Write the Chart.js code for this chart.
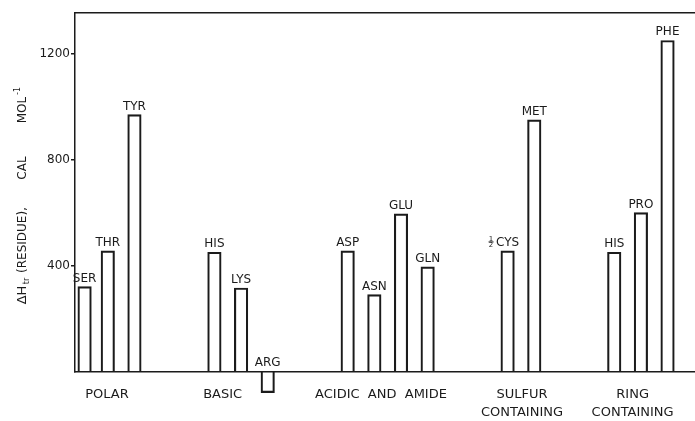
<!DOCTYPE html>
<html>
<head>
<meta charset="utf-8">
<script src="https://cdn.jsdelivr.net/npm/chart.js@4"></script>
<style>
  html, body { margin: 0; padding: 0; background: #fff; }
  #wrap { width: 695px; height: 421px; }
</style>
</head>
<body>
<div id="wrap"><canvas id="c" width="695" height="421"></canvas></div>
<script>
// Transfer enthalpy per residue, grouped by side-chain class
const residues  = ['SER', 'THR', 'TYR', 'HIS', 'LYS', 'ARG', 'ASP', 'ASN', 'GLU', 'GLN', '½CYS', 'MET', 'HIS', 'PRO', 'PHE'];
const slots     = [0.13, 1, 2, 5, 6, 7, 10, 11, 12, 13, 16, 17, 20, 21, 22];
const enthalpy  = [320, 455, 970, 450, 315, -80, 455, 290, 595, 395, 455, 950, 450, 600, 1250];

const groupNames   = [['POLAR'], ['BASIC'], ['ACIDIC  AND  AMIDE'], ['SULFUR', 'CONTAINING'], ['RING', 'CONTAINING']];
const groupCenters = [0.97, 5.31, 11.25, 16.54, 20.69];
const yTicks       = [400, 800, 1200];

const ink  = '#1b1b1b';
const FONT = '"DejaVu Sans", "Liberation Sans", sans-serif';

// residue names written above each bar (above the base line for negative bars)
const barNames = {
  id: 'barNames',
  afterDatasetsDraw(chart) {
    const ctx = chart.ctx;
    const meta = chart.getDatasetMeta(0);
    ctx.save();
    ctx.fillStyle = ink;
    ctx.textAlign = 'center';
    ctx.textBaseline = 'alphabetic';
    meta.data.forEach((bar, i) => {
      const top = Math.min(bar.y, bar.base) - 5;
      let name = residues[i];
      ctx.font = '12px ' + FONT;
      if (name.startsWith('½')) {
        name = name.slice(1);
        ctx.fillText(name, bar.x, top);
        const w = ctx.measureText(name).width;
        const fx = bar.x - w / 2 - 5;
        ctx.font = '7px ' + FONT;
        ctx.fillText('1', fx, top - 5);
        ctx.fillText('2', fx, top + 1);
        ctx.strokeStyle = ink;
        ctx.lineWidth = 1;
        ctx.beginPath();
        ctx.moveTo(fx - 2.5, top - 4);
        ctx.lineTo(fx + 2.5, top - 4);
        ctx.stroke();
      } else {
        ctx.fillText(name, bar.x, top);
      }
    });
    ctx.restore();
  }
};

// rotated y-axis title with subscript "tr" and superscript "-1"
const titleParts = [
  { t: 'ΔH',         at: 295, size: 13, shift: 0 },
  { t: 'tr',         at: 281, size: 8,  shift: 4 },
  { t: '(RESIDUE),', at: 240, size: 12, shift: 0 },
  { t: 'CAL',        at: 168, size: 12, shift: 0 },
  { t: 'MOL',        at: 110, size: 12, shift: 0 },
  { t: '-1',         at: 91,  size: 8,  shift: -5 }
];
const yTitle = {
  id: 'yTitle',
  afterDraw(chart) {
    const ctx = chart.ctx;
    ctx.save();
    ctx.fillStyle = ink;
    ctx.textAlign = 'center';
    ctx.textBaseline = 'middle';
    titleParts.forEach(p => {
      ctx.save();
      ctx.translate(22.5 + p.shift, p.at);
      ctx.rotate(-Math.PI / 2);
      ctx.font = p.size + 'px ' + FONT;
      ctx.fillText(p.t, 0, 0);
      ctx.restore();
    });
    ctx.restore();
  }
};

new Chart(document.getElementById('c'), {
  type: 'bar',
  data: {
    datasets: [{
      data: slots.map((s, i) => ({ x: s, y: enthalpy[i] })),
      backgroundColor: 'rgba(255,255,255,0)',
      borderColor: ink,
      borderWidth: 1.5,
      borderSkipped: 'start',
      barThickness: 13.5,
      clip: false
    }]
  },
  options: {
    responsive: false,
    animation: false,
    devicePixelRatio: 1,
    layout: { padding: 0 },
    plugins: { legend: { display: false }, tooltip: { enabled: false } },
    scales: {
      x: {
        type: 'linear',
        position: 'bottom',
        min: -0.23, max: 23.03,
        offset: false,
        afterFit(s) { s.height = 49.6; },
        afterBuildTicks(s) { s.ticks = groupCenters.map(v => ({ value: v })); },
        grid: { display: false, offset: false },
        border: { display: true, color: ink, width: 1.5 },
        ticks: {
          autoSkip: false, maxRotation: 0, minRotation: 0,
          padding: 6.5, color: ink,
          font: { family: FONT, size: 13, lineHeight: 1.385 },
          callback: (v, i) => groupNames[i]
        }
      },
      top: {
        type: 'linear',
        axis: 'x',
        position: 'top',
        min: -0.23, max: 23.03,
        offset: false,
        afterFit(s) { s.height = 12.7; },
        grid: { display: false },
        ticks: { display: false },
        border: { display: true, color: ink, width: 1.5 }
      },
      y: {
        min: 0, max: 1355,
        afterFit(s) { s.width = 75; },
        afterBuildTicks(s) { s.ticks = yTicks.map(v => ({ value: v })); },
        grid: { drawOnChartArea: false, tickLength: 4, color: ink, lineWidth: 1.5 },
        border: { display: true, color: ink, width: 1.5 },
        ticks: {
          padding: 1, color: ink,
          font: { family: FONT, size: 12 },
          callback: v => String(v)
        }
      }
    }
  },
  plugins: [barNames, yTitle]
});
</script>
</body>
</html>
